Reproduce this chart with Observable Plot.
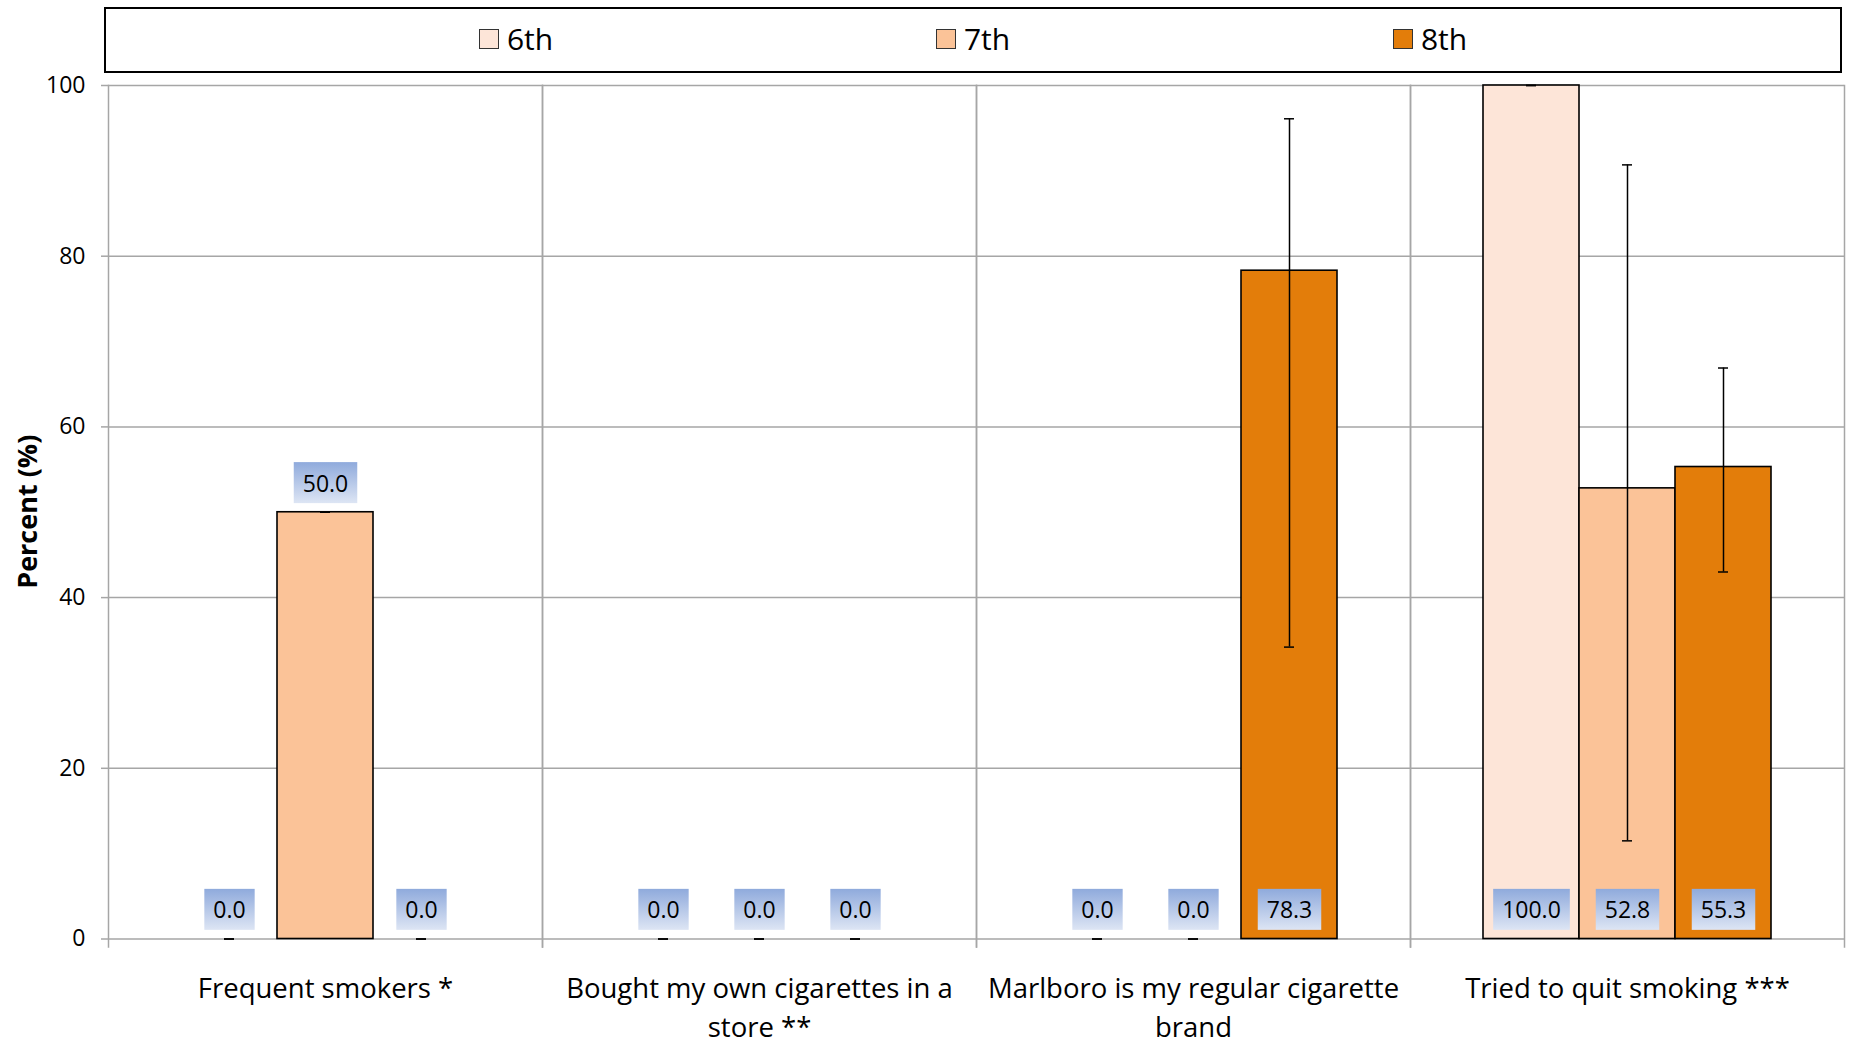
<!DOCTYPE html>
<html>
<head>
<meta charset="utf-8">
<script src="https://cdn.jsdelivr.net/npm/d3@7"></script>
<script src="https://cdn.jsdelivr.net/npm/@observablehq/plot@0.6"></script>
<style>
  html, body { margin: 0; padding: 0; background: #fff; overflow: hidden; }
  body { width: 1851px; height: 1044px; font-family: "Open Sans", sans-serif; position: relative; }
  .legend {
    position: absolute; top: 7px; left: 104px; width: 1738px; height: 66px; box-sizing: border-box;
    border: 2px solid #000; display: flex; align-items: center; justify-content: center; padding-bottom: 3px;
    background: #fff; z-index: 2;
  }
  .legend .item { width: 457px; display: flex; align-items: center; justify-content: center; gap: 8px; font-size: 30px; color: #000; }
  .legend .sw { width: 18px; height: 18px; border: 1.5px solid #333; box-sizing: content-box; }
  #chart { position: absolute; top: 0; left: 0; }
</style>
</head>
<body>
<div class="legend" id="legend"></div>
<div id="chart"></div>
<script>
// ---- data ----
const categories = [
  "Frequent smokers *",
  "Bought my own cigarettes in a store **",
  "Marlboro is my regular cigarette brand",
  "Tried to quit smoking ***"
];
const categoryLabels = [
  "Frequent smokers *",
  "Bought my own cigarettes in a\nstore **",
  "Marlboro is my regular cigarette\nbrand",
  "Tried to quit smoking ***"
];
const grades = ["6th", "7th", "8th"];
const gradeColors = ["#FDE5D8", "#FBC398", "#E37D0A"];

const values6 = [0.0, 0.0, 0.0, 100.0];
const values7 = [50.0, 0.0, 0.0, 52.8];
const values8 = [0.0, 0.0, 78.3, 55.3];

const low6 = [0.0, 0.0, 0.0, 100.0];
const high6 = [0.0, 0.0, 0.0, 100.0];
const low7 = [50.0, 0.0, 0.0, 11.5];
const high7 = [50.0, 0.0, 0.0, 90.7];
const low8 = [0.0, 0.0, 34.2, 43.0];
const high8 = [0.0, 0.0, 96.1, 66.9];

const yTicks = [0, 20, 40, 60, 80, 100];

// ---- table ----
const series = [
  {grade: "6th", v: values6, lo: low6, hi: high6},
  {grade: "7th", v: values7, lo: low7, hi: high7},
  {grade: "8th", v: values8, lo: low8, hi: high8}
];
const rows = [];
categories.forEach((c, i) => {
  series.forEach(s => rows.push({category: c, grade: s.grade, value: s.v[i], lo: s.lo[i], hi: s.hi[i]}));
});
// the one label Excel drew above its bar
const labelAtEnd = d => d.category === categories[0] && d.grade === "7th";

// ---- legend ----
const legend = document.getElementById("legend");
grades.forEach((g, i) => {
  const it = document.createElement("div");
  it.className = "item";
  it.innerHTML = `<span class="sw" style="background:${gradeColors[i]}"></span><span>${g}</span>`;
  legend.appendChild(it);
});

const gray = "#a6a6a6";
const W = 1851, H = 1044, MT = 85, MB = 105.5;
const chart = Plot.plot({
  width: W,
  height: H,
  marginTop: MT,
  marginLeft: 107,
  marginRight: 7,
  marginBottom: MB,
  style: {fontFamily: "'Open Sans', sans-serif", background: "#fff", color: "#000", overflow: "visible"},
  fx: {domain: categories, padding: 0, label: null},
  x: {domain: grades, paddingInner: 0, paddingOuter: 0.744, axis: null},
  y: {domain: [0, 100], label: null},
  color: {domain: grades, range: gradeColors},
  marks: [
    Plot.gridY(yTicks, {stroke: gray, strokeOpacity: 1, strokeWidth: 1.5}),
    Plot.frame({anchor: "left", stroke: gray, strokeWidth: 1.5, insetBottom: -8}),
    Plot.frame({anchor: "right", stroke: gray, strokeWidth: 1.5, insetBottom: -8}),
    Plot.barY(rows, {fx: "category", x: "grade", y: "value", fill: "grade", stroke: "#000", strokeWidth: 1.6}),
    Plot.ruleX(rows, {fx: "category", x: "grade", y1: "lo", y2: "hi", stroke: "#000", strokeWidth: 1.5}),
    Plot.tickY(rows, {fx: "category", x: "grade", y: "lo", stroke: "#000", strokeWidth: 1.5, insetLeft: 43, insetRight: 43}),
    Plot.tickY(rows, {fx: "category", x: "grade", y: "hi", stroke: "#000", strokeWidth: 1.5, insetLeft: 43, insetRight: 43}),
    Plot.text(rows, {
      fx: "category", x: "grade",
      y: d => labelAtEnd(d) ? d.value : 0,
      text: d => d.value.toFixed(1),
      dy: -28, fontSize: 23, fill: "#000", lineAnchor: "middle", className: "dlabel"
    }),
    Plot.axisY(yTicks, {tickSize: 7, tickPadding: 16, fontSize: 23, stroke: gray, strokeWidth: 1.5, label: null}),
    Plot.axisFx({anchor: "bottom", tickSize: 0, tickPadding: 31, fontSize: 27.5, lineHeight: 1.42, label: null,
      tickFormat: d => categoryLabels[categories.indexOf(d)]})
  ]
});
document.getElementById("chart").appendChild(chart);

// gradient label boxes behind data labels
const svg = d3.select(chart);
const defs = svg.insert("defs", ":first-child");
const grad = defs.append("linearGradient").attr("id", "lblgrad").attr("x1", 0).attr("y1", 0).attr("x2", 0).attr("y2", 1);
grad.append("stop").attr("offset", "0%").attr("stop-color", "#8FAADC");
grad.append("stop").attr("offset", "100%").attr("stop-color", "#DDE5F4");
chart.querySelectorAll(".dlabel text").forEach(t => {
  const bb = t.getBBox();
  const cy = bb.y + bb.height / 2;
  const r = document.createElementNS("http://www.w3.org/2000/svg", "rect");
  r.setAttribute("x", bb.x - 9);
  r.setAttribute("width", bb.width + 18);
  r.setAttribute("y", cy - 20.5);
  r.setAttribute("height", 41);
  r.setAttribute("fill", "url(#lblgrad)");
  const tr = t.getAttribute("transform");
  if (tr) r.setAttribute("transform", tr);
  t.parentNode.insertBefore(r, t);
});

// y-axis title
svg.append("text")
  .attr("transform", `translate(28,${MT + (H - MT - MB) / 2}) rotate(-90)`)
  .attr("text-anchor", "middle").attr("dy", "0.35em")
  .attr("font-family", "'Open Sans', sans-serif").attr("font-weight", 700).attr("font-size", 27)
  .text("Percent (%)");
</script>
</body>
</html>
